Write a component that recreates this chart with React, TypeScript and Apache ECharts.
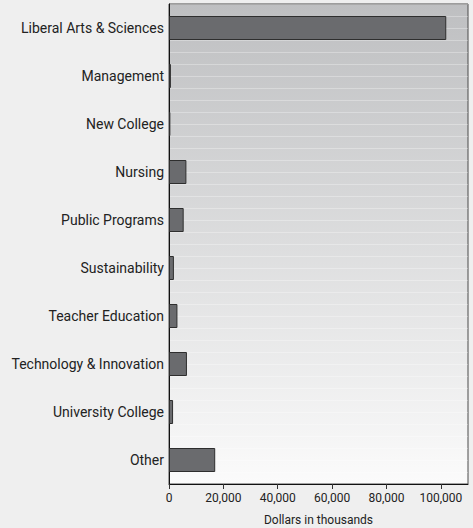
import React, { useEffect, useRef } from "react";
import * as echarts from "echarts";

const categories = [
  "Liberal Arts & Sciences",
  "Management",
  "New College",
  "Nursing",
  "Public Programs",
  "Sustainability",
  "Teacher Education",
  "Technology & Innovation",
  "University College",
  "Other",
];
const values = [102000, 700, 500, 6400, 5400, 1800, 3100, 6600, 1500, 17000];
const xTicks = { min: 0, max: 110000, interval: 20000 };
const xTitle = "Dollars in thousands";

const FONT = "Roboto, 'Liberation Sans', sans-serif";

export default function App() {
  const ref = useRef<HTMLDivElement>(null);
  useEffect(() => {
    const chart = echarts.init(ref.current!, null, { renderer: "svg" });
    chart.setOption({
      animation: false,
      backgroundColor: "#efefef",
      textStyle: { fontFamily: FONT },
      grid: {
        left: 169,
        right: 5,
        top: 4,
        bottom: 44,
        containLabel: false,
        outerBoundsMode: "none",
        show: true,
        borderColor: "#4a4a4a",
        borderWidth: 1,
        backgroundColor: new echarts.graphic.LinearGradient(0, 0, 0, 1, [
          { offset: 0, color: "#bebfc1" },
          { offset: 1, color: "#fbfbfb" },
        ]),
      },
      xAxis: {
        type: "value",
        min: xTicks.min,
        max: xTicks.max,
        interval: xTicks.interval,
        name: xTitle,
        nameLocation: "middle",
        nameGap: 30,
        nameTextStyle: { fontFamily: FONT, fontSize: 12, color: "#222" },
        axisLine: { show: true, lineStyle: { color: "#111", width: 1 } },
        axisTick: { show: true, length: 5, lineStyle: { color: "#333" } },
        axisLabel: {
          fontFamily: FONT,
          fontSize: 12,
          color: "#222",
          margin: 8,
          showMaxLabel: false,
          formatter: (v: number) => v.toLocaleString("en-US"),
        },
        splitLine: { show: false },
      },
      yAxis: [
        {
          type: "category",
          data: categories,
          inverse: true,
          axisLine: { show: true, lineStyle: { color: "#111", width: 1 } },
          axisTick: { show: false },
          axisLabel: { fontFamily: FONT, fontSize: 14, color: "#222", margin: 5 },
          splitLine: { show: false },
        },
        {
          type: "value",
          min: 0,
          max: 40,
          interval: 1,
          show: true,
          axisLine: { show: false },
          axisTick: { show: false },
          axisLabel: { show: false },
          splitLine: { show: true, lineStyle: { color: "rgba(255,255,255,0.3)", width: 1 } },
        },
      ],
      series: [
        {
          type: "bar",
          yAxisIndex: 0,
          data: values,
          barWidth: 24,
          itemStyle: { color: "#6a6b6e", borderColor: "#2e2e2e", borderWidth: 1 },
        },
      ],
    });
    return () => chart.dispose();
  }, []);
  return <div ref={ref} style={{ width: 473, height: 528, position: "absolute", left: 0, top: 0 }} />;
}
